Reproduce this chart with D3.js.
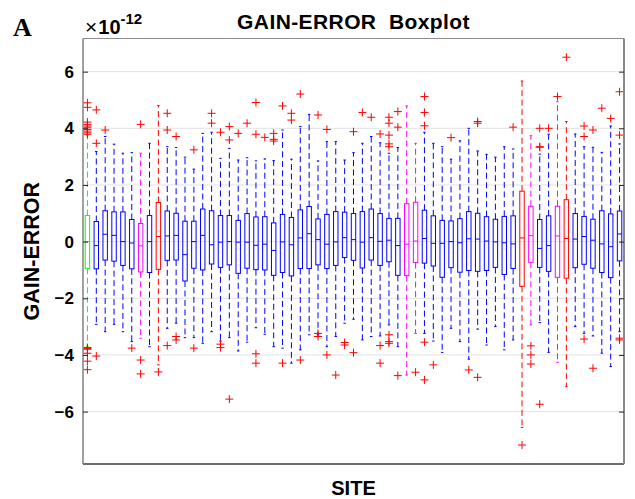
<!DOCTYPE html>
<html>
<head>
<meta charset="utf-8">
<script src="https://cdn.jsdelivr.net/npm/d3@7"></script>
<style>
  body { margin: 0; background: #fff; }
  text { font-family: "Liberation Sans", Arial, Helvetica, sans-serif; }
</style>
</head>
<body>
<svg id="chart" width="635" height="499"></svg>
<script>
// Per-site gain-error statistics (units of 1e-12)
const sites = d3.range(1, 62).map(String);

// b = blue, g = green, m = magenta, r = red
const boxColors = [
  "g","b","b","b","b","b","m","b","r","b",
  "b","b","b","b","b","b","b","b","b","b",
  "b","b","b","b","b","b","b","b","b","b",
  "b","b","b","b","b","b","m","m","b","b",
  "b","b","b","b","b","b","b","b","b","r",
  "m","b","b","m","r","b","b","b","b","b",
  "b"
];

const upperWhisker = [
  3.75,3.18,3.71,3.44,3.12,3.14,3.12,3.47,4.80,3.35,
  3.32,2.98,2.56,3.82,3.86,2.94,3.29,2.88,2.96,2.85,
  2.92,2.86,3.94,2.91,4.06,4.49,2.85,3.53,3.53,2.88,
  3.14,3.47,3.71,3.49,3.12,3.32,4.79,3.47,3.86,3.47,
  3.35,2.91,3.56,4.00,3.20,3.08,2.98,3.35,3.27,5.67,
  3.74,3.09,3.79,4.94,4.24,3.80,3.35,3.33,3.15,4.08,
  3.45
];

const q3 = [
  0.92,0.71,1.09,1.05,1.05,0.78,0.64,0.92,1.38,1.08,
  1.00,0.72,0.72,1.15,1.09,0.92,0.92,0.75,0.99,0.87,
  0.88,0.66,0.96,0.85,1.12,1.24,0.80,0.96,1.06,1.04,
  0.99,1.06,1.15,0.99,0.82,0.82,1.34,1.39,1.11,0.91,
  0.75,0.73,0.81,1.06,1.00,0.88,0.79,0.89,0.91,1.78,
  1.25,0.78,0.91,1.25,1.48,0.99,0.89,0.79,1.09,0.98,
  1.08
];

const medians = [
  0.00,-0.14,0.26,0.22,0.00,-0.05,-0.15,0.00,0.18,0.20,
  0.22,-0.46,0.00,0.22,-0.11,-0.02,0.00,-0.02,-0.02,-0.13,
  -0.09,-0.31,-0.01,-0.11,0.13,0.28,0.07,-0.09,-0.01,0.14,
  0.07,-0.02,0.14,0.01,0.05,-0.14,-0.09,0.02,0.11,-0.06,
  -0.06,0.00,-0.04,0.10,0.09,0.02,-0.01,-0.04,-0.08,0.13,
  0.21,-0.24,-0.14,0.20,0.11,0.09,0.18,0.05,-0.08,-0.18,
  0.27
];

const q1 = [
  -0.94,-0.96,-0.65,-0.69,-0.84,-0.96,-1.07,-1.09,-0.98,-0.66,
  -0.65,-1.39,-0.94,-1.00,-0.79,-0.91,-0.82,-1.12,-0.94,-0.99,
  -1.00,-1.19,-1.09,-1.21,-0.95,-0.95,-0.82,-0.95,-0.84,-0.56,
  -0.66,-0.93,-0.65,-0.84,-0.71,-1.19,-1.20,-0.74,-0.76,-0.86,
  -1.26,-0.92,-1.08,-1.02,-1.05,-1.02,-0.91,-1.16,-0.95,-1.58,
  -0.73,-0.91,-1.05,-1.26,-1.29,-0.92,-0.80,-0.94,-1.09,-1.27,
  -0.68
];

const lowerWhisker = [
  -3.70,-2.92,-3.18,-2.92,-3.18,-3.53,-3.41,-3.71,-4.35,-3.06,
  -2.88,-3.39,-3.39,-3.59,-3.18,-3.51,-3.39,-3.86,-3.55,-3.04,
  -3.27,-3.71,-3.76,-4.29,-3.82,-3.29,-3.29,-3.71,-3.35,-2.88,
  -2.74,-3.47,-3.35,-3.33,-2.94,-3.71,-4.71,-3.24,-3.24,-3.51,
  -3.91,-3.06,-3.53,-4.15,-3.09,-3.65,-3.00,-3.82,-3.47,-6.56,
  -2.94,-2.86,-3.91,-4.26,-5.12,-3.00,-3.24,-3.33,-3.94,-4.41,
  -3.18
];

const outliers = [
  [4.90,4.74,4.22,4.14,4.08,4.02,3.96,3.90,3.84,3.79,-3.74,-3.77,-3.80,-3.94,-4.22,-4.52],
  [4.65,3.47,-4.04], [3.94], [], [], [-3.76], [4.14,-4.18,-4.67], [], [-4.60], [4.53,3.94,-3.67],
  [3.71,-3.35,-3.47], [], [3.24,-3.76], [], [4.53,4.18], [3.86,-3.62,-3.74], [4.06,3.59,-5.56], [3.82], [4.18], [4.91,3.79,-3.96,-4.29],
  [3.68], [3.82,3.61,3.55], [4.79,-4.29], [4.53,4.29], [5.21,-4.18], [], [4.47,-3.24,-3.35], [3.96,-4.00], [-4.71], [-3.56,-3.65],
  [3.88,-3.92], [4.56], [4.39], [3.80,-3.67,-4.29], [4.39,4.18,3.76,3.45,3.35,-3.29,-3.53,-3.59], [4.59,4.04,-4.73], [], [-4.61], [5.12,4.56,4.09,-3.55,-4.88], [-4.35],
  [], [3.67], [], [-4.53], [4.24,4.18,-4.79], [], [], [], [4.04], [-7.18],
  [-3.68,-4.00,-4.32], [4.00,3.35,3.33,-5.74], [4.00], [5.12], [6.51], [], [4.08,3.71,-3.44], [3.94,-4.47], [4.71], [4.35],
  [5.29,3.76,-3.41,-3.47]
];

const yTicks = [-6, -4, -2, 0, 2, 4, 6];

const palette = { b: "#0000ff", g: "#00ff00", m: "#ff00ff", r: "#ff0000" };

const rows = sites.map((s, i) => ({
  site: s,
  color: palette[boxColors[i]],
  hi: upperWhisker[i], q3: q3[i], med: medians[i], q1: q1[i], lo: lowerWhisker[i],
  out: outliers[i]
}));

// Plot geometry
const plotL = 83, plotR = 624, plotT = 38.5, plotB = 464;
const svg = d3.select("#chart");

const x = d3.scaleBand().domain(sites).range([plotL, plotR]).padding(0);
const y = d3.scaleLinear().domain([-7.85, 7.17]).range([plotB, plotT]);
const cx = s => x(s) + x.bandwidth() / 2;
const boxW = x.bandwidth() * 0.5;
const capW = boxW * 0.55;

// Horizontal grid
svg.append("g")
  .selectAll("line")
  .data(yTicks)
  .join("line")
  .attr("x1", plotL).attr("x2", plotR)
  .attr("y1", d => y(d)).attr("y2", d => y(d))
  .attr("stroke", "#e3e3e3").attr("stroke-width", 1);

const g = svg.append("g");

// Whiskers (dashed), drawn from the box edges outward
g.selectAll("line.wu").data(rows).join("line").attr("class", "wu")
  .attr("x1", d => cx(d.site)).attr("x2", d => cx(d.site))
  .attr("y1", d => y(d.q3)).attr("y2", d => y(d.hi))
  .attr("stroke", d => d.color).attr("stroke-width", 1)
  .attr("stroke-dasharray", "6,3.5");
g.selectAll("line.wl").data(rows).join("line").attr("class", "wl")
  .attr("x1", d => cx(d.site)).attr("x2", d => cx(d.site))
  .attr("y1", d => y(d.q1)).attr("y2", d => y(d.lo))
  .attr("stroke", d => d.color).attr("stroke-width", 1)
  .attr("stroke-dasharray", "6,3.5");

// Whisker caps
g.selectAll("line.cu").data(rows).join("line").attr("class", "cu")
  .attr("x1", d => cx(d.site) - capW / 2).attr("x2", d => cx(d.site) + capW / 2)
  .attr("y1", d => y(d.hi)).attr("y2", d => y(d.hi))
  .attr("stroke", d => d.color).attr("stroke-width", 1);
g.selectAll("line.cl").data(rows).join("line").attr("class", "cl")
  .attr("x1", d => cx(d.site) - capW / 2).attr("x2", d => cx(d.site) + capW / 2)
  .attr("y1", d => y(d.lo)).attr("y2", d => y(d.lo))
  .attr("stroke", d => d.color).attr("stroke-width", 1);

// Boxes
g.selectAll("rect.box").data(rows).join("rect").attr("class", "box")
  .attr("x", d => cx(d.site) - boxW / 2)
  .attr("width", boxW)
  .attr("y", d => y(d.q3))
  .attr("height", d => y(d.q1) - y(d.q3))
  .attr("fill", "none")
  .attr("stroke", d => d.color).attr("stroke-width", 1);

// Medians
g.selectAll("line.med").data(rows).join("line").attr("class", "med")
  .attr("x1", d => cx(d.site) - boxW / 2).attr("x2", d => cx(d.site) + boxW / 2)
  .attr("y1", d => y(d.med)).attr("y2", d => y(d.med))
  .attr("stroke", d => d.color).attr("stroke-width", 1);

// Outliers as red plus markers
const outPts = rows.flatMap(d => d.out.map(v => ({ site: d.site, v })));
const ms = 4;
g.selectAll("path.out").data(outPts).join("path").attr("class", "out")
  .attr("d", d => {
    const px = cx(d.site), py = y(d.v);
    return `M${px - ms},${py}H${px + ms}M${px},${py - ms}V${py + ms}`;
  })
  .attr("stroke", "#ff0000").attr("stroke-width", 1).attr("fill", "none");

// Frame
svg.append("line").attr("x1", plotL).attr("x2", plotR).attr("y1", plotT).attr("y2", plotT)
  .attr("stroke", "#8c8c8c").attr("stroke-width", 1);
svg.append("line").attr("x1", plotL).attr("x2", plotR).attr("y1", plotB).attr("y2", plotB)
  .attr("stroke", "#3a3a3a").attr("stroke-width", 1.5);
svg.append("line").attr("x1", plotL).attr("x2", plotL).attr("y1", plotT).attr("y2", plotB)
  .attr("stroke", "#808080").attr("stroke-width", 1.5);
svg.append("line").attr("x1", plotR).attr("x2", plotR).attr("y1", plotT).attr("y2", plotB)
  .attr("stroke", "#8a8a8a").attr("stroke-width", 2);

// Left y axis with inward ticks
const yAxisL = d3.axisLeft(y).tickValues(yTicks).tickSizeInner(-5).tickSizeOuter(0).tickPadding(9);
const axL = svg.append("g").attr("transform", `translate(${plotL},0)`).call(yAxisL);
axL.select(".domain").remove();
axL.selectAll(".tick line").attr("stroke", "#262626");
axL.selectAll(".tick text")
  .style("font-family", '"Liberation Sans", Arial, sans-serif')
  .style("font-weight", "bold").style("font-size", "17px").attr("fill", "#000");

// Right-side tick marks
const yAxisR = d3.axisRight(y).tickValues(yTicks).tickSizeInner(-5).tickSizeOuter(0).tickFormat("");
const axR = svg.append("g").attr("transform", `translate(${plotR},0)`).call(yAxisR);
axR.select(".domain").remove();
axR.selectAll(".tick line").attr("stroke", "#262626");

// Exponent label
const expo = svg.append("text").attr("x", 85).attr("y", 34)
  .style("font-size", "20px").style("font-weight", "bold").attr("fill", "#000");
expo.append("tspan").text("\u00d7").style("font-weight", "normal").style("font-size", "21px");
expo.append("tspan").text("10").attr("dx", 1);
expo.append("tspan").text("-12").attr("dy", -10).style("font-size", "15px");

// Title
svg.append("text").attr("x", (plotL + plotR) / 2).attr("y", 29)
  .attr("text-anchor", "middle")
  .style("font-size", "21px").style("font-weight", "bold").style("white-space", "pre")
  .style("letter-spacing", "0.4px")
  .attr("fill", "#000")
  .text("GAIN-ERROR  Boxplot");

// Axis titles
svg.append("text")
  .attr("transform", `translate(39,${(plotT + plotB) / 2}) rotate(-90)`)
  .attr("text-anchor", "middle")
  .style("font-size", "21.5px").style("font-weight", "bold").attr("fill", "#000")
  .text("GAIN-ERROR");
svg.append("text").attr("x", (plotL + plotR) / 2).attr("y", 495)
  .attr("text-anchor", "middle")
  .style("font-size", "20px").style("font-weight", "bold").attr("fill", "#000")
  .text("SITE");

// Panel letter
svg.append("text").attr("x", 13).attr("y", 36)
  .style("font-family", '"Liberation Serif", "Times New Roman", serif')
  .style("font-size", "26px").style("font-weight", "bold").attr("fill", "#000")
  .text("A");
</script>
</body>
</html>
